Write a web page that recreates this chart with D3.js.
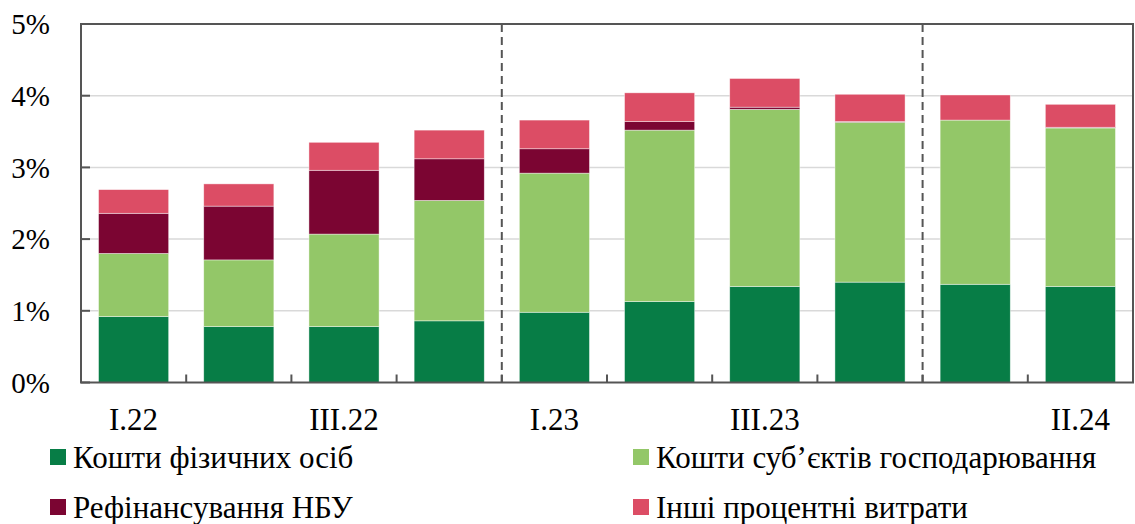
<!DOCTYPE html>
<html>
<head>
<meta charset="utf-8">
<script src="https://cdn.jsdelivr.net/npm/d3@7"></script>
<style>
  body { margin: 0; background: #fff; }
  svg text { font-family: "Liberation Serif", "Times New Roman", serif; fill: #000; }
</style>
</head>
<body>
<div id="chart"></div>
<script>
var categories = ["I.22", "II.22", "III.22", "IV.22", "I.23", "II.23", "III.23", "IV.23", "I.24", "II.24"];
var tickLabels = ["I.22", "", "III.22", "", "I.23", "", "III.23", "", "", "II.24"];
var yTicks = [0, 1, 2, 3, 4, 5];
var separators = ["I.23", "I.24"];

var seriesNames = ["Кошти фізичних осіб", "Кошти суб’єктів господарювання", "Рефінансування НБУ", "Інші процентні витрати"];
var individuals = [0.92, 0.78, 0.78, 0.86, 0.98, 1.13, 1.34, 1.40, 1.37, 1.34];
var businesses  = [0.88, 0.93, 1.29, 1.68, 1.94, 2.39, 2.47, 2.23, 2.29, 2.21];
var refinancing = [0.56, 0.75, 0.89, 0.58, 0.34, 0.12, 0.03, 0.01, 0.00, 0.01];
var otherCosts  = [0.33, 0.31, 0.39, 0.40, 0.40, 0.40, 0.40, 0.38, 0.35, 0.32];

var colors = ["#077d46", "#93c768", "#7b0532", "#dc4d65"];

var width = 1135, height = 524;
var margin = {top: 24, left: 81, right: 2, bottom: 142};

var svg = d3.select("#chart").append("svg")
    .attr("width", width).attr("height", height)
    .attr("font-family", "'Liberation Serif', 'Times New Roman', serif");

var xScale = d3.scaleBand()
    .domain(categories)
    .range([margin.left, width - margin.right])
    .paddingInner(1/3).paddingOuter(1/6);

var yScale = d3.scaleLinear()
    .domain([0, 5])
    .range([height - margin.bottom + 0.5, margin.top]);

var x0 = margin.left, x1 = width - margin.right;
var step = xScale.step();
var gap = step - xScale.bandwidth();

// gridlines
svg.append("g").selectAll("line")
    .data(yTicks.filter(function(d) { return d > 0 && d < 5; }))
    .enter().append("line")
    .attr("x1", x0).attr("x2", x1)
    .attr("y1", function(d) { return yScale(d); })
    .attr("y2", function(d) { return yScale(d); })
    .attr("stroke", "#d9d9d9").attr("stroke-width", 1.5);

// stacked bars
var rows = categories.map(function(c, i) {
    return {cat: c, s0: individuals[i], s1: businesses[i], s2: refinancing[i], s3: otherCosts[i]};
});
var stack = d3.stack().keys(["s0", "s1", "s2", "s3"]);
var layers = stack(rows);

svg.append("g").selectAll("g")
    .data(layers)
    .enter().append("g")
    .attr("fill", function(d, i) { return colors[i]; })
    .selectAll("rect")
    .data(function(d) { return d; })
    .enter().append("rect")
    .attr("x", function(d) { return xScale(d.data.cat); })
    .attr("width", xScale.bandwidth())
    .attr("y", function(d) { return yScale(d[1]); })
    .attr("height", function(d) { return Math.max(0, yScale(d[0]) - yScale(d[1])); })
    .attr("stroke", "#fff").attr("stroke-width", 0.7).attr("stroke-opacity", 0.6);

// year separators
svg.append("g").selectAll("line")
    .data(separators)
    .enter().append("line")
    .attr("x1", function(d) { return xScale(d) - gap / 2; })
    .attr("x2", function(d) { return xScale(d) - gap / 2; })
    .attr("y1", yScale(5)).attr("y2", yScale(0))
    .attr("stroke", "#555").attr("stroke-width", 2)
    .attr("stroke-dasharray", "8,5");

// frame
svg.append("rect")
    .attr("x", x0).attr("y", yScale(5))
    .attr("width", x1 - x0).attr("height", yScale(0) - yScale(5))
    .attr("fill", "none").attr("stroke", "#555").attr("stroke-width", 2);

// y ticks (inside)
svg.append("g").selectAll("line")
    .data(yTicks)
    .enter().append("line")
    .attr("x1", x0).attr("x2", x0 + 9)
    .attr("y1", function(d) { return yScale(d); })
    .attr("y2", function(d) { return yScale(d); })
    .attr("stroke", "#555").attr("stroke-width", 2);

// x ticks at category boundaries
svg.append("g").selectAll("line")
    .data(categories.slice(1))
    .enter().append("line")
    .attr("x1", function(d) { return xScale(d) - gap / 2; })
    .attr("x2", function(d) { return xScale(d) - gap / 2; })
    .attr("y1", yScale(0)).attr("y2", yScale(0) - 8)
    .attr("stroke", "#555").attr("stroke-width", 2);

// y labels
svg.append("g").selectAll("text")
    .data(yTicks)
    .enter().append("text")
    .attr("x", 50)
    .attr("y", function(d) { return yScale(d); })
    .attr("dy", "0.35em")
    .attr("text-anchor", "end")
    .attr("font-size", 29)
    .text(function(d) { return d + "%"; });

// x labels
svg.append("g").selectAll("text")
    .data(categories)
    .enter().append("text")
    .attr("x", function(d) { return xScale(d) + xScale.bandwidth() / 2; })
    .attr("y", 430)
    .attr("text-anchor", "middle")
    .attr("font-size", 31)
    .text(function(d, i) { return tickLabels[i]; });

// legend
var legendPos = [[50, 468], [633, 468], [50, 518], [633, 518]];
var legend = svg.append("g").selectAll("g")
    .data(seriesNames)
    .enter().append("g")
    .attr("transform", function(d, i) { return "translate(" + legendPos[i] + ")"; });
legend.append("rect")
    .attr("x", 0).attr("y", -19).attr("width", 16).attr("height", 16)
    .attr("fill", function(d, i) { return colors[i]; });
legend.append("text")
    .attr("x", 23).attr("y", 0)
    .attr("font-size", 31)
    .text(function(d) { return d; });
</script>
</body>
</html>
